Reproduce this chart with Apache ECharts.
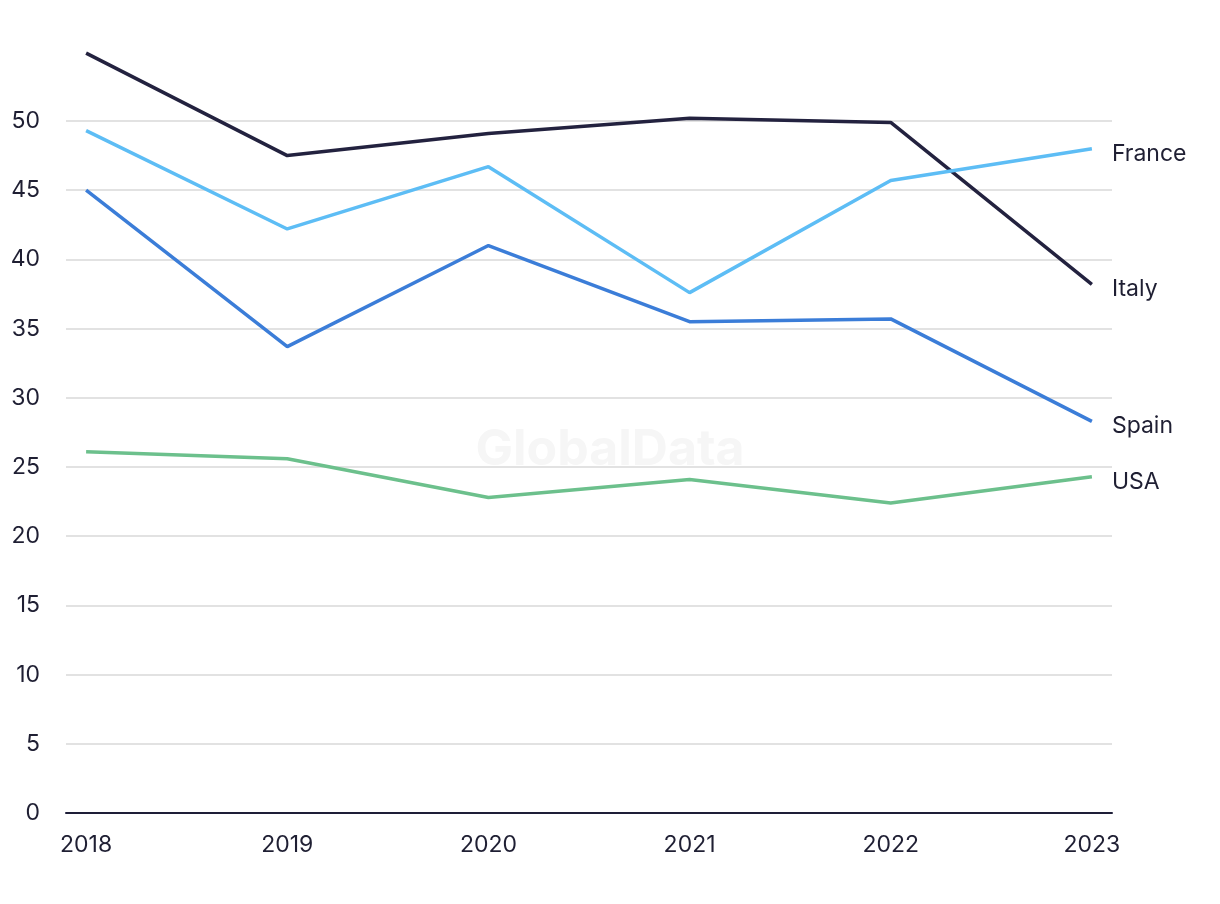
<!DOCTYPE html>
<html>
<head>
<meta charset="utf-8">
<script src="https://cdn.jsdelivr.net/npm/echarts@6/dist/echarts.min.js"></script>
<style>
html,body{margin:0;padding:0;background:#fff;}
#chart{width:1220px;height:904px;}
</style>
</head>
<body>
<div id="chart"></div>
<script>
const years = [2018, 2019, 2020, 2021, 2022, 2023];
const italy  = [54.9, 47.5, 49.1, 50.2, 49.9, 38.2];
const france = [49.3, 42.2, 46.7, 37.6, 45.7, 48.0];
const spain  = [45.0, 33.7, 41.0, 35.5, 35.7, 28.3];
const usa    = [26.1, 25.6, 22.8, 24.1, 22.4, 24.3];
const yTicks = [0, 5, 10, 15, 20, 25, 30, 35, 40, 45, 50];

const FONT = 'Inter, "Liberation Sans", sans-serif';
const TEXT = '#1f1f33';

function mk(name, data, color) {
  return {
    name: name,
    type: 'line',
    data: years.map((y, i) => [y, data[i]]),
    showSymbol: false,
    symbol: 'none',
    clip: false,
    lineStyle: { color: color, width: 3.5 },
    itemStyle: { color: color },
    endLabel: {
      show: true,
      formatter: '{a}',
      color: TEXT,
      fontFamily: FONT,
      fontSize: 23,
      distance: 20,
      offset: [0, 5]
    },
    emphasis: { disabled: true },
    z: 3
  };
}

const chart = echarts.init(document.getElementById('chart'), null, { renderer: 'canvas' });
chart.setOption({
  animation: false,
  backgroundColor: '#ffffff',
  graphic: [{
    type: 'text',
    left: 'center',
    top: 425,
    z: 0,
    style: {
      text: 'GlobalData',
      font: 'bold 50px ' + FONT,
      fill: '#f6f6f6'
    }
  }],
  grid: { left: 66, right: 108, top: 121, bottom: 91, containLabel: false },
  xAxis: {
    type: 'value',
    min: 2017.9,
    max: 2023.1,
    splitLine: { show: false },
    axisTick: { show: false },
    axisLine: { show: true, lineStyle: { color: '#1e1e38', width: 2 } },
    axisLabel: {
      customValues: years,
      color: TEXT,
      fontFamily: FONT,
      fontSize: 23,
      margin: 21,
      formatter: v => String(Math.round(v))
    }
  },
  yAxis: {
    type: 'value',
    min: 0,
    max: 50,
    interval: 5,
    axisLine: { show: false },
    axisTick: { show: false },
    splitLine: { show: true, lineStyle: { color: '#d9d9d9', width: 1.5 } },
    axisLabel: {
      color: TEXT,
      fontFamily: FONT,
      fontSize: 23,
      margin: 26,
      formatter: v => yTicks.includes(v) ? String(v) : ''
    }
  },
  series: [
    mk('Italy', italy, '#23223f'),
    mk('France', france, '#5dbdf5'),
    mk('Spain', spain, '#3b7dd8'),
    mk('USA', usa, '#6cc08c')
  ]
});
</script>
</body>
</html>
